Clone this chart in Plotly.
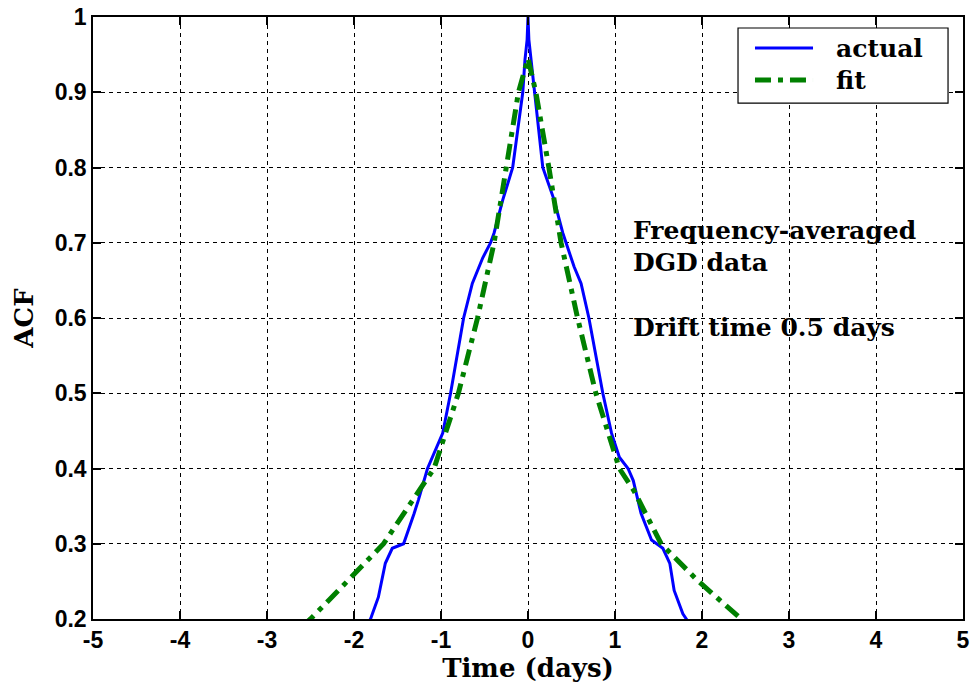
import plotly.graph_objects as go

# ---- data ----
actual_x = [-1.90, -1.81, -1.72, -1.64, -1.56, -1.43, -1.31, -1.26, -1.155, -0.98, -0.89,
            -0.74, -0.64, -0.52, -0.43, -0.39, -0.29, -0.176, -0.06, -0.035, -0.01, 0.0,
            0.01, 0.035, 0.07, 0.17, 0.30, 0.40, 0.53, 0.61, 0.70, 0.86, 0.96, 1.05,
            1.15, 1.21, 1.30, 1.42, 1.55, 1.63, 1.68, 1.78, 1.82, 1.90]
actual_y = [0.185, 0.200, 0.229, 0.274, 0.294, 0.300, 0.340, 0.358, 0.400, 0.447, 0.500,
            0.600, 0.646, 0.680, 0.700, 0.713, 0.757, 0.800, 0.900, 0.943, 0.970, 1.000,
            0.970, 0.943, 0.900, 0.800, 0.757, 0.713, 0.668, 0.646, 0.600, 0.500, 0.447, 0.415,
            0.400, 0.384, 0.340, 0.305, 0.294, 0.274, 0.238, 0.207, 0.200, 0.185]

fit_x = [-2.60, -2.50, -2.07, -1.66, -1.25, -1.08, -0.80, -0.58, -0.39, -0.25, -0.11,
         0.0, 0.09, 0.24, 0.38, 0.57, 0.78, 1.05, 1.22, 1.53, 1.95, 2.45, 2.55]
fit_y = [0.190, 0.200, 0.251, 0.300, 0.371, 0.400, 0.500, 0.600, 0.700, 0.800, 0.900,
         0.945, 0.900, 0.800, 0.700, 0.600, 0.500, 0.400, 0.370, 0.300, 0.251, 0.200, 0.190]

x_ticks = [-5, -4, -3, -2, -1, 0, 1, 2, 3, 4, 5]
y_ticks = [0.2, 0.3, 0.4, 0.5, 0.6, 0.7, 0.8, 0.9, 1.0]
y_tick_text = ["0.2", "0.3", "0.4", "0.5", "0.6", "0.7", "0.8", "0.9", "1"]

series_names = ["actual", "fit"]
series_colors = ["#0000FF", "#008000"]
series_widths = [3, 5]
series_dash = ["solid", "16px,7px,5px,7px"]

notes = ["Frequency-averaged", "DGD data", "Drift time 0.5 days"]
notes_y = [0.716, 0.674, 0.588]
notes_x = 1.19

SERIF = "DejaVu Serif, Liberation Serif, serif"
SANS = "Liberation Sans, Arial, sans-serif"

fig = go.Figure()
for xs, ys, name, col, w, d in zip([actual_x, fit_x], [actual_y, fit_y], series_names,
                                   series_colors, series_widths, series_dash):
    fig.add_trace(go.Scatter(x=xs, y=ys, mode="lines", name=name, showlegend=False,
                             line=dict(color=col, width=w, dash=d)))

for t, yy in zip(notes, notes_y):
    fig.add_annotation(x=notes_x, y=yy, xref="x", yref="y", text=t, showarrow=False,
                       xanchor="left", yanchor="middle", borderpad=0,
                       font=dict(family=SERIF, size=25, color="black", weight="bold"))

# legend box drawn in paper coordinates
fig.add_shape(type="rect", xref="paper", yref="paper", x0=0.7414, x1=0.9828,
              y0=0.857, y1=0.9817, line=dict(color="black", width=1.2), fillcolor="white",
              layer="above")
leg_rows = [0.9485, 0.8953]
for name, col, w, d, yy in zip(series_names, series_colors, series_widths, series_dash, leg_rows):
    fig.add_shape(type="line", xref="paper", yref="paper", x0=0.7609, x1=0.8276,
                  y0=yy, y1=yy, line=dict(color=col, width=w, dash=d), layer="above")
    fig.add_annotation(x=0.8529, y=yy, xref="paper", yref="paper", text=name,
                       showarrow=False, xanchor="left", yanchor="middle", borderpad=0,
                       font=dict(family=SERIF, size=25, color="black", weight="bold"))

axis_common = dict(showline=True, linecolor="black", linewidth=1.5, mirror="ticks",
                   ticks="inside", ticklen=8, tickwidth=1.5, tickcolor="black",
                   showgrid=True, gridcolor="black", gridwidth=1, griddash="4px,4px",
                   zeroline=False, automargin=False,
                   tickfont=dict(family=SANS, size=23, color="black", weight="bold"))

fig.update_xaxes(range=[-5, 5], tickvals=x_ticks, ticktext=[str(v) for v in x_ticks],
                 title=dict(text="Time (days)", standoff=4,
                            font=dict(family=SERIF, size=26, color="black", weight="bold")),
                 **axis_common)
fig.update_yaxes(range=[0.2, 1.0], tickvals=y_ticks, ticktext=y_tick_text,
                 title=dict(text="ACF", standoff=14,
                            font=dict(family=SERIF, size=26, color="black", weight="bold")),
                 **axis_common)

fig.update_layout(
    width=974, height=689,
    margin=dict(l=93, r=11, t=17, b=70),
    paper_bgcolor="white", plot_bgcolor="white",
    showlegend=False,
)

fig.write_html("out.html")
